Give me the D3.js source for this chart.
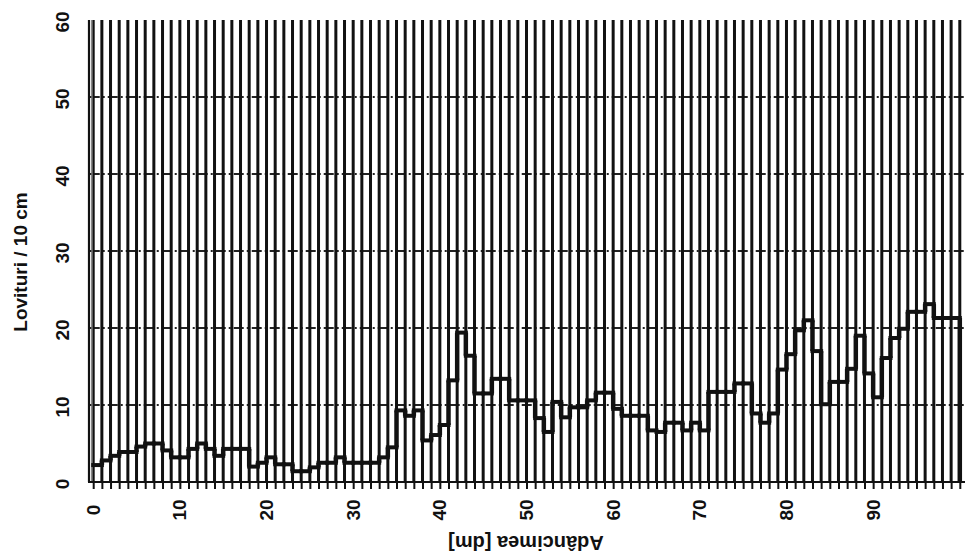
<!DOCTYPE html>
<html>
<head>
<meta charset="utf-8">
<script src="https://cdn.jsdelivr.net/npm/d3@7"></script>
<style>
  body { margin: 0; background: #fff; }
  svg { display: block; }
  text { font-family: "Liberation Sans", Arial, sans-serif; font-weight: bold; fill: #111; }
</style>
</head>
<body>
<svg id="viz" width="969" height="553"></svg>
<script>
// blows per 10 cm, one value per dm of depth
const blows = [
  2.2, 2.8, 3.4, 3.9, 3.9, 4.6, 5.0, 5.0, 4.1, 3.2,
  3.2, 4.3, 5.0, 4.3, 3.4, 4.3, 4.3, 4.3, 2.0, 2.5,
  3.2, 2.3, 2.3, 1.4, 1.4, 1.9, 2.5, 2.5, 3.2, 2.5,
  2.5, 2.5, 2.5, 3.2, 4.5, 9.3, 8.6, 9.3, 5.4, 6.1,
  7.4, 13.2, 19.4, 16.4, 11.5, 11.5, 13.4, 13.4, 10.6, 10.6,
  10.6, 8.3, 6.5, 10.4, 8.4, 9.7, 9.7, 10.6, 11.6, 11.6,
  9.5, 8.6, 8.6, 8.6, 6.7, 6.5, 7.7, 7.7, 6.7, 7.7,
  6.7, 11.7, 11.7, 11.7, 12.8, 12.8, 8.9, 7.7, 8.9, 14.6,
  16.6, 19.7, 21.0, 17.0, 10.1, 13.0, 13.0, 14.7, 19.0, 14.1,
  11.0, 16.1, 18.7, 19.9, 22.1, 22.1, 23.1, 21.3, 21.3, 21.3
];
const depth = d3.range(blows.length);
const xTicks = [0, 10, 20, 30, 40, 50, 60, 70, 80, 90];
const yTicks = [0, 10, 20, 30, 40, 50, 60];
const yGrid = [10, 20, 30, 40, 50];

const svg = d3.select("#viz");
const x = d3.scaleLinear().domain([-0.6, 100.6]).range([88, 965]);
const y = d3.scaleLinear().domain([0, 60]).range([482, 20]);

// horizontal dashed gridlines
svg.append("g").selectAll("line")
  .data(yGrid)
  .enter()
  .append("line")
  .attr("x1", x(-0.4)).attr("x2", x(100.6))
  .attr("y1", d => y(d)).attr("y2", d => y(d))
  .attr("stroke", "#222")
  .attr("stroke-width", 1.8)
  .attr("stroke-dasharray", "10,3,2,3");

// vertical lines at every dm
svg.append("g").selectAll("line")
  .data(d3.range(0, 101))
  .enter()
  .append("line")
  .attr("x1", d => x(d)).attr("x2", d => x(d))
  .attr("y1", y(0)).attr("y2", y(60))
  .attr("stroke", "#111")
  .attr("stroke-width", 3);

// left axis double line
svg.append("line")
  .attr("x1", x(-0.6) + 1).attr("x2", x(-0.6) + 1)
  .attr("y1", y(0)).attr("y2", y(60))
  .attr("stroke", "#111").attr("stroke-width", 2.2);
svg.append("line")
  .attr("x1", x(-0.6) + 4).attr("x2", x(-0.6) + 4)
  .attr("y1", y(0)).attr("y2", y(60))
  .attr("stroke", "#777").attr("stroke-width", 1.5);

// bottom axis with small ticks each dm
const xAxis = d3.axisBottom(x)
  .tickValues(d3.range(0, 101))
  .tickSize(7)
  .tickFormat("");
const gx = svg.append("g")
  .attr("transform", `translate(0,${y(0)})`)
  .call(xAxis);
gx.select(".domain").attr("stroke", "#111").attr("stroke-width", 2.2)
  .attr("d", `M${x(-0.6)},0H${x(100.6)}`);
gx.selectAll(".tick line").attr("stroke", "#111").attr("stroke-width", 2);

// step histogram: bar tops
svg.append("g").selectAll("line")
  .data(depth)
  .enter()
  .append("line")
  .attr("x1", d => x(d)).attr("x2", d => x(d + 1))
  .attr("y1", d => y(blows[d])).attr("y2", d => y(blows[d]))
  .attr("stroke", "#111")
  .attr("stroke-width", 4)
  .attr("stroke-linecap", "square");

// step histogram: risers between neighbouring bars
svg.append("g").selectAll("line")
  .data(depth.slice(1))
  .enter()
  .append("line")
  .attr("x1", d => x(d)).attr("x2", d => x(d))
  .attr("y1", d => y(blows[d - 1])).attr("y2", d => y(blows[d]))
  .attr("stroke", "#111")
  .attr("stroke-width", 4.5);

// outer edge of last bar
svg.append("line")
  .attr("x1", x(100)).attr("x2", x(100))
  .attr("y1", y(blows[99])).attr("y2", y(0))
  .attr("stroke", "#111").attr("stroke-width", 4.5);

// y tick labels (rotated)
svg.append("g").selectAll("text")
  .data(yTicks)
  .enter()
  .append("text")
  .attr("x", 62)
  .attr("y", d => y(d) + 2)
  .attr("transform", d => `rotate(-90,62,${y(d) + 2})`)
  .attr("text-anchor", "middle")
  .attr("dominant-baseline", "central")
  .attr("font-size", "19px")
  .text(d => d);

// x tick labels (rotated)
svg.append("g").selectAll("text")
  .data(xTicks)
  .enter()
  .append("text")
  .attr("x", d => x(d))
  .attr("y", 510)
  .attr("transform", d => `rotate(-90,${x(d)},510)`)
  .attr("text-anchor", "middle")
  .attr("dominant-baseline", "central")
  .attr("font-size", "19px")
  .text(d => d);

// axis titles
svg.append("text")
  .attr("x", 20).attr("y", 262)
  .attr("transform", "rotate(-90,20,262)")
  .attr("text-anchor", "middle")
  .attr("dominant-baseline", "central")
  .attr("font-size", "19px")
  .text("Lovituri / 10 cm");

svg.append("text")
  .attr("x", 526).attr("y", 543)
  .attr("transform", "rotate(180,526,543)")
  .attr("text-anchor", "middle")
  .attr("dominant-baseline", "central")
  .attr("font-size", "20px")
  .text("Adâncimea [dm]");
</script>
</body>
</html>
